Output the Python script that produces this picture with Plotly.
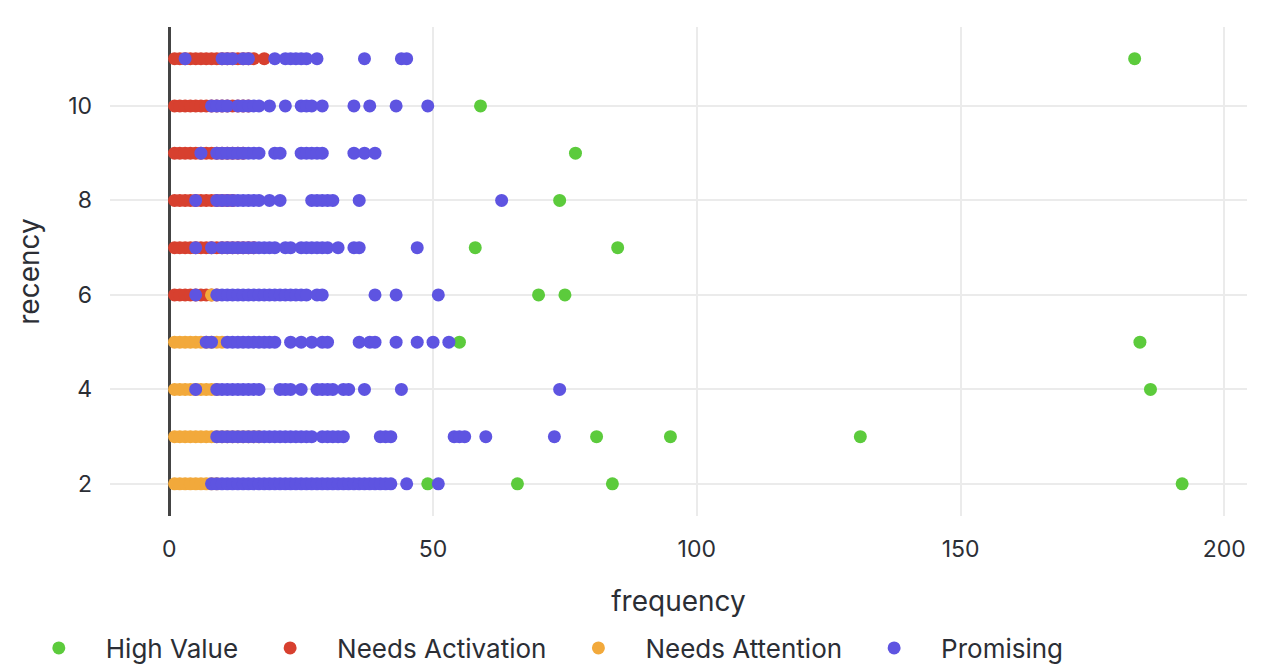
import plotly.graph_objects as go

# ---------------- data ----------------
segments = ["High Value", "Needs Activation", "Needs Attention", "Promising"]
colors = ["#5ccb3c", "#d7402f", "#f2a93b", "#5e54e1"]

high_value_recency = [11, 10, 9, 8, 7, 7, 6, 6, 5, 5, 4, 3, 3, 3, 2, 2, 2, 2]
high_value_frequency = [183, 59, 77, 74, 58, 85, 70, 75, 55, 184, 186, 81, 95, 131, 49, 66, 84, 192]

activation_11 = [1, 2, 3, 4, 5, 6, 7, 8, 9, 10, 11, 12, 13, 14, 15, 16, 18]
activation_10 = [1, 2, 3, 4, 5, 6, 7, 8, 9, 10, 11, 12, 13, 14, 15]
activation_9 = [1, 2, 3, 4, 5, 6, 7, 8, 9, 10, 11, 12, 13, 14]
activation_8 = [1, 2, 3, 4, 5, 6, 7, 8, 9, 10, 11, 12]
activation_7 = [1, 2, 3, 4, 5, 6, 7, 8, 9, 10, 11, 12, 13, 14, 15, 16]
activation_6 = [1, 2, 3, 4, 5, 6, 7, 8, 9]

attention_6 = [8]
attention_5 = [1, 2, 3, 4, 5, 6, 7, 8, 9, 10]
attention_4 = [1, 2, 3, 4, 5, 6, 7, 8, 9]
attention_3 = [1, 2, 3, 4, 5, 6, 7, 8, 9, 10, 11, 12, 13, 14, 15, 16, 17]
attention_2 = [1, 2, 3, 4, 5, 6, 7, 8, 9]

promising_11 = [3, 10, 11, 12, 14, 15, 20, 22, 23, 24, 25, 26, 28, 37, 44, 45]
promising_10 = [8, 9, 10, 11, 13, 14, 15, 16, 17, 19, 22, 25, 26, 27, 29, 35, 38, 43, 49]
promising_9 = [6, 9, 10, 11, 12, 13, 14, 15, 16, 17, 20, 21, 25, 26, 27, 28, 29, 35, 37, 39]
promising_8 = [5, 9, 10, 11, 12, 13, 14, 15, 16, 17, 19, 21, 27, 28, 29, 30, 31, 36, 63]
promising_7 = [5, 8, 10, 11, 12, 13, 14, 15, 16, 17, 18, 19, 20, 22, 23, 25, 26, 27, 28,
               29, 30, 32, 35, 36, 47]
promising_6 = [5, 9, 10, 11, 12, 13, 14, 15, 16, 17, 18, 19, 20, 21, 22, 23, 24, 25, 26,
               28, 29, 39, 43, 51]
promising_5 = [7, 8, 11, 12, 13, 14, 15, 16, 17, 18, 19, 20, 23, 25, 27, 29, 30, 36, 38,
               39, 43, 47, 50, 53]
promising_4 = [5, 9, 10, 11, 12, 13, 14, 15, 16, 17, 21, 22, 23, 25, 28, 29, 30, 31, 33,
               34, 37, 44, 74]
promising_3 = [9, 10, 11, 12, 13, 14, 15, 16, 17, 18, 19, 20, 21, 22, 23, 24, 25, 26, 27,
               29, 30, 31, 32, 33, 40, 41, 42, 54, 55, 56, 60, 73]
promising_2 = [8, 9, 10, 11, 12, 13, 14, 15, 16, 17, 18, 19, 20, 21, 22, 23, 24, 25, 26,
               27, 28, 29, 30, 31, 32, 33, 34, 35, 36, 37, 38, 39, 40, 41, 42, 45, 51]

x_ticks = [0, 50, 100, 150, 200]
y_ticks = [2, 4, 6, 8, 10]


def flatten(rows):
    xs, ys = [], []
    for r, freqs in rows:
        xs.extend(freqs)
        ys.extend([r] * len(freqs))
    return xs, ys


activation_x, activation_y = flatten([(11, activation_11), (10, activation_10), (9, activation_9),
                                      (8, activation_8), (7, activation_7), (6, activation_6)])
attention_x, attention_y = flatten([(6, attention_6), (5, attention_5), (4, attention_4),
                                    (3, attention_3), (2, attention_2)])
promising_x, promising_y = flatten([(11, promising_11), (10, promising_10), (9, promising_9),
                                    (8, promising_8), (7, promising_7), (6, promising_6),
                                    (5, promising_5), (4, promising_4), (3, promising_3),
                                    (2, promising_2)])

series = [
    (high_value_frequency, high_value_recency),
    (activation_x, activation_y),
    (attention_x, attention_y),
    (promising_x, promising_y),
]

FONT = "Inter, 'Noto Sans', sans-serif"
TXT = "#2b2e35"

fig = go.Figure()
for name, color, (xs, ys) in zip(segments, colors, series):
    fig.add_trace(go.Scatter(
        x=xs, y=ys, mode="markers", name=name,
        marker=dict(color=color, size=13, line=dict(width=0)),
    ))

fig.update_layout(
    width=1266, height=672,
    margin=dict(l=102, r=27, t=19, b=164),
    paper_bgcolor="white", plot_bgcolor="white",
    font=dict(family=FONT, size=23, color=TXT),
    showlegend=True,
    legend=dict(
        orientation="h", xref="container", yref="container",
        x=0.003, y=0.0476, xanchor="left", yanchor="middle",
        font=dict(size=26, color=TXT), itemwidth=84,
    ),
)
fig.update_xaxes(
    range=[-11.24, 204.3], tickvals=x_ticks, showgrid=True, gridcolor="#ebebeb", gridwidth=2,
    zeroline=True, zerolinecolor="#444444", zerolinewidth=3, showline=False,
    ticks="", ticklabelstandoff=17, automargin=False,
    title=dict(text="frequency", standoff=29), tickfont=dict(size=23, color=TXT),
)
fig.update_yaxes(
    range=[1.32, 11.67], tickvals=y_ticks, showgrid=True, gridcolor="#ebebeb", gridwidth=2,
    zeroline=False, showline=False, ticks="", ticklabelstandoff=17, automargin=False,
    title=dict(text="recency", standoff=20), tickfont=dict(size=23, color=TXT),
)

fig.write_html("out.html")
